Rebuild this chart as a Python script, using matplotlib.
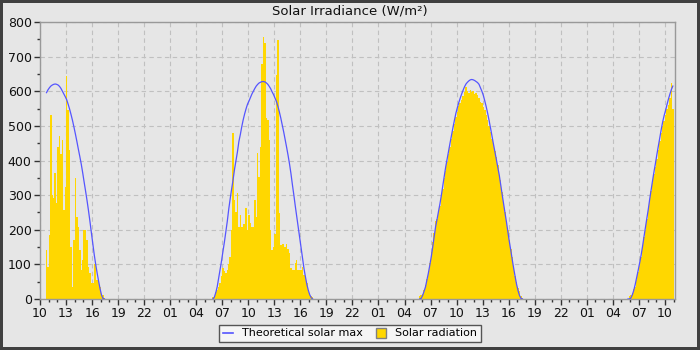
import matplotlib
matplotlib.use("Agg")
import matplotlib.pyplot as plt
import matplotlib.dates as mdates
from matplotlib.lines import Line2D
import pandas as pd

# 10 minute readings, one block per day of sunshine
day1_start = "2023-09-20 10:40"
day1_theory = [596, 604, 610, 615, 618, 620, 621, 620, 618, 614, 608, 600, 592, 584,
               575, 562, 548, 532, 515, 496, 476, 455, 433, 412, 390, 365, 338, 312,
               285, 256, 225, 192, 160, 128, 100, 75, 52, 30, 12, 2, 0]
day1_solar = [141, 93, 185, 531, 300, 292, 364, 277, 440, 470, 420, 459, 257, 324,
              644, 546, 430, 151, 36, 170, 349, 238, 209, 141, 84, 113, 199, 199,
              170, 93, 75, 46, 46, 100, 100, 55, 55, 36, 12, 12, 3]

day2_start = "2023-09-21 05:50"
day2_theory = [0, 5, 18, 35, 60, 85, 110, 138, 165, 195, 225, 260, 290, 318, 345, 375,
               400, 425, 455, 475, 498, 518, 535, 550, 563, 572, 582, 592, 600, 608,
               615, 620, 624, 626, 628, 628, 627, 624, 620, 614, 607, 598, 590, 580,
               570, 556, 540, 522, 502, 482, 460, 438, 415, 390, 362, 330, 300, 268,
               238, 208, 178, 148, 118, 88, 64, 42, 25, 12, 4, 0]
day2_solar = [5, 10, 20, 25, 36, 45, 65, 89, 80, 74, 84, 100, 120, 199, 480, 285,
              250, 305, 209, 243, 209, 218, 218, 262, 199, 243, 220, 209, 209, 285,
              237, 421, 353, 440, 680, 758, 738, 522, 517, 459, 199, 141, 151, 189,
              647, 748, 247, 156, 160, 160, 151, 160, 145, 132, 89, 84, 84, 103, 113,
              84, 84, 84, 93, 70, 60, 45, 21, 12, 8, 5]

day3_start = "2023-09-22 05:40"
day3_theory = [0, 2, 10, 22, 35, 55, 75, 98, 122, 150, 180, 209, 230, 253, 275, 300,
               328, 355, 382, 405, 428, 451, 473, 495, 516, 536, 552, 567, 580, 592,
               603, 613, 621, 626, 630, 633, 634, 633, 631, 628, 625, 620, 610, 600,
               588, 572, 555, 536, 515, 493, 470, 447, 425, 403, 380, 358, 330, 302,
               275, 248, 222, 193, 165, 140, 113, 88, 64, 42, 24, 10, 2, 0]
day3_solar = [8, 12, 15, 25, 40, 58, 80, 105, 135, 165, 190, 225, 232, 255, 270, 300,
              318, 350, 370, 395, 420, 440, 462, 485, 505, 525, 540, 556, 565, 575,
              585, 598, 612, 600, 596, 605, 598, 600, 592, 596, 590, 580, 570, 565,
              555, 545, 532, 518, 500, 482, 462, 445, 428, 410, 388, 355, 345, 310,
              280, 250, 225, 200, 170, 145, 120, 90, 66, 50, 32, 22, 10, 4]

day4_start = "2023-09-23 05:40"
day4_theory = [0, 0, 3, 12, 25, 42, 62, 82, 103, 125, 150, 178, 205, 232, 258, 288,
               315, 342, 368, 392, 418, 442, 466, 490, 512, 530, 545, 562, 578, 592,
               605, 615]
day4_solar = [0, 8, 12, 18, 28, 35, 55, 78, 95, 120, 150, 180, 200, 230, 260, 285,
              312, 335, 360, 380, 405, 430, 455, 480, 500, 515, 532, 548, 560, 580,
              623, 548]

days = [(day1_start, day1_theory, day1_solar),
        (day2_start, day2_theory, day2_solar),
        (day3_start, day3_theory, day3_solar),
        (day4_start, day4_theory, day4_solar)]

bg = "#e6e6e6"
fig = plt.figure(figsize=(7, 3.5), dpi=100, facecolor=bg, edgecolor="#404040", linewidth=3)
ax = fig.add_axes([40 / 700, 1 - 299 / 350, 635 / 700, 277 / 350])
ax.set_facecolor(bg)

step = pd.Timedelta(minutes=10)
for start, theory, solar in days:
    t = pd.date_range(start, periods=len(solar), freq="10min")
    ax.bar(t, solar, width=step, align="edge", color="#ffd700", linewidth=0,
           antialiased=False, zorder=2)
    ax.plot(t + step / 2, theory, color="#5555ff", linewidth=0.9, zorder=3)

ax.set_xlim(pd.Timestamp("2023-09-20 10:00"), pd.Timestamp("2023-09-23 11:10"))
ax.set_ylim(0, 800)
ax.set_yticks(range(0, 801, 100))
ax.set_yticks(range(0, 801, 50), minor=True)
ax.xaxis.set_major_locator(mdates.HourLocator(byhour=range(1, 24, 3)))
ax.xaxis.set_minor_locator(mdates.HourLocator())
ax.xaxis.set_major_formatter(mdates.DateFormatter("%H"))

ax.grid(True, which="major", color="#c0c0c0", linestyle=(0, (4, 3)), linewidth=0.8, zorder=1)
ax.set_axisbelow(True)
for s in ax.spines.values():
    s.set_color("#999999")
    s.set_linewidth(1)
ax.tick_params(which="major", length=4, width=1, color="#333333", labelsize=9,
               labelcolor="#111111", pad=2)
ax.tick_params(which="minor", length=2.5, width=1, color="#333333")

fig.text(0.5, 1 - 11 / 350, "Solar Irradiance (W/m\u00b2)", ha="center", va="center",
         fontsize=9.5, color="#111111")

handles = [Line2D([], [], color="#5555ff", linewidth=1.2),
           Line2D([], [], marker="s", linestyle="", markersize=7,
                  markerfacecolor="#ffd700", markeredgecolor="#808080")]
leg = fig.legend(handles, ["Theoretical solar max", "Solar radiation"], loc="lower center",
                 bbox_to_anchor=(0.5, 0.006), ncol=2, fontsize=8, frameon=True,
                 fancybox=False, edgecolor="#555555", facecolor="#f5f5f5", framealpha=1,
                 handlelength=0.9, columnspacing=1.2, borderpad=0.35, handletextpad=0.8)
leg.get_frame().set_linewidth(1)

fig.savefig("out.png", dpi=100, facecolor=bg, edgecolor="#404040")
